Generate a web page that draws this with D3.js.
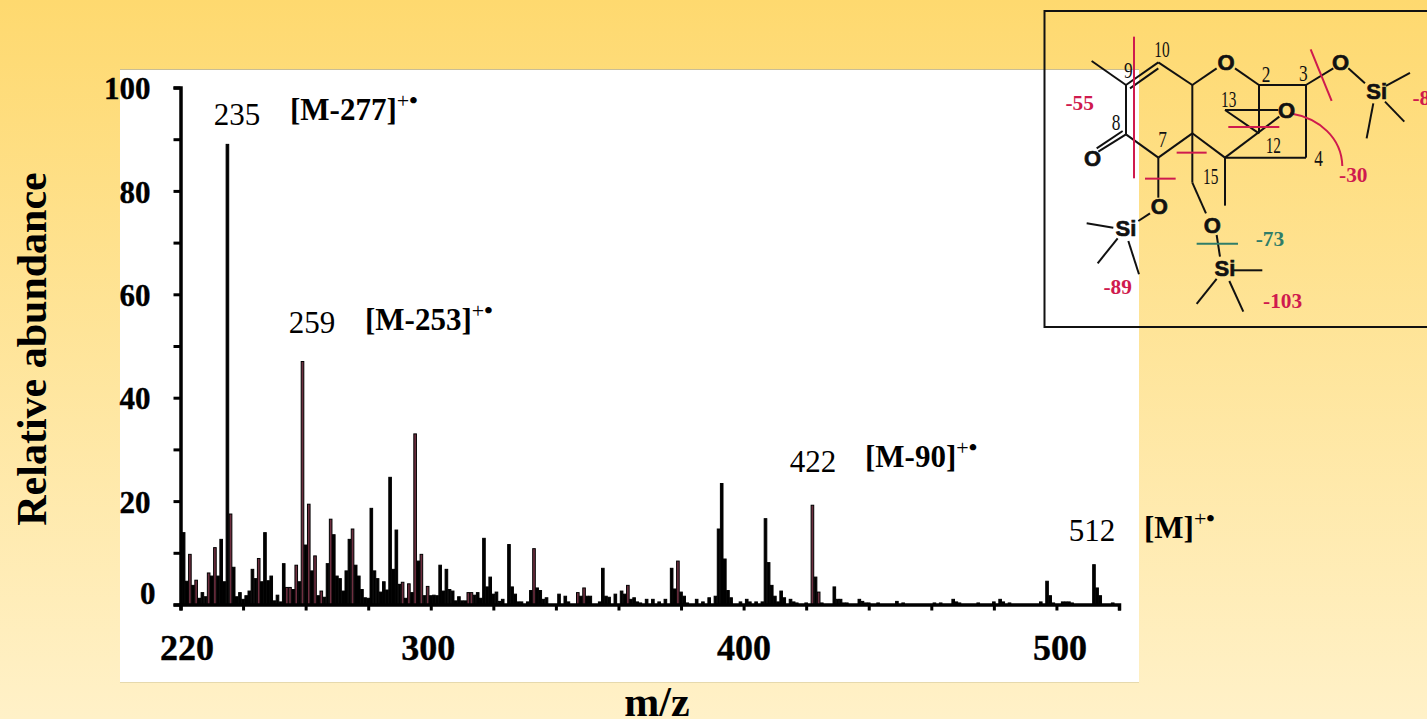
<!DOCTYPE html>
<html>
<head>
<meta charset="utf-8">
<script src="https://d3js.org/d3.v7.min.js"></script>
<style>
html, body { margin: 0; padding: 0; overflow: hidden; }
svg { display: block; }
text { font-family: "Liberation Serif", serif; }
</style>
</head>
<body>
<div id="chart"></div>
<script>
// spectrum
var mz = [221,222,223,224,225,226,227,228,229,230,231,232,233,234,235,236,237,238,239,240,
	241,242,243,244,245,246,247,248,249,250,251,252,253,254,255,256,257,258,259,260,
	261,262,263,264,265,266,267,268,269,270,271,272,273,274,275,276,277,278,279,280,
	281,282,283,284,285,286,287,288,289,290,291,292,293,294,295,296,297,298,299,300,
	301,302,303,304,305,306,307,308,309,310,311,312,313,314,315,316,317,318,319,320,
	321,322,323,325,326,327,328,329,331,332,333,334,335,336,337,341,343,344,347,348,
	349,350,351,354,355,356,357,359,361,362,363,364,365,366,367,369,371,373,375,377,
	378,379,380,381,382,385,387,389,391,392,393,394,395,396,399,401,402,404,406,407,
	408,409,410,411,412,413,415,416,417,420,422,423,424,425,429,430,431,432,433,437,
	438,439,440,443,449,451,461,463,467,468,469,475,480,482,483,485,495,497,498,499,
	502,503,504,505,512,513,514,518];
var abundance = [13.9,4.5,9.7,3.7,4.7,1.2,2.3,1.5,6.1,5.5,11,5.5,12.6,4.4,89,17.5,7.2,1.5,2.3,1,
	1.7,2.6,6.8,5,8.9,4.4,13.9,4.6,5.5,0.7,1.8,0.5,7.9,3.3,3.3,2.9,7.6,4.4,47,11.5,
	19.4,6.5,9.4,1.7,2.6,1.4,7.9,16.5,13.5,5.5,5,2.6,6.5,12.6,14.6,7.6,5.5,2.9,1.3,1.2,
	18.6,6.5,5,2.4,4.4,2.8,24.6,6.8,14.4,3.9,4.3,1.2,4,2.3,33,8.4,9.7,1.7,3.5,1.7,
	1.8,1.7,7.6,2.6,6.8,2.9,2.6,0.7,1.5,0.7,0.7,2.3,2.3,1.8,2.3,1.2,12.8,3.4,5.3,2,
	2.4,0.6,1,11.6,3.4,2,0.5,0.5,0.5,2.7,10.8,3.2,2.7,1,1.3,2,1.6,0.5,2.3,1.6,
	3.2,1.6,1.6,0.5,7,1.6,1.4,2,2.6,2,3.7,1,1.3,0.5,0.3,1,1,0.5,1,7,
	3,8.4,2.4,1.6,0.3,1,0.5,1.3,1.6,14.6,23.4,8.8,2.7,1.3,0.5,1,0.5,0.5,0.5,16.6,
	8.1,3.7,1.6,0.5,2.6,1.3,1,0.5,0.3,0.3,19.2,5.3,2.4,0.3,3.4,1,1,0.3,0.3,1,
	0.6,0.3,0.3,0.3,0.6,0.3,0.3,0.3,1,0.5,0.3,0.3,0.5,1,0.5,0.3,0.5,4.5,1.7,0.3,
	0.5,0.5,0.5,0.3,7.7,3.2,1.7,0.3];
// peaks printed with a maroon core
var maroonPeaks = [223,225,229,231,236,245,254,255,257,259,261,263,265,268,275,291,293,295,297,299,
	312,313,333,347,349,363,379,422,424];

var yTicks = d3.range(0, 101, 10);
var yLabelled = [0, 20, 40, 60, 80, 100];
var xTicks = d3.range(220, 521, 20);
var xLabelled = [220, 300, 400, 500];

// peak annotations: m/z, ion name
var peakNames = [235, 259, 422, 512];
var ionNames = ["[M-277]", "[M-253]", "[M-90]", "[M]"];

var width = 1427, height = 719;

var svg = d3.select("#chart").append("svg")
	.attr("width", width)
	.attr("height", height);

// slide background
var grad = svg.append("defs").append("linearGradient")
	.attr("id", "bg")
	.attr("x1", 0).attr("y1", 0).attr("x2", 0).attr("y2", 1);
grad.append("stop").attr("offset", "0%").attr("stop-color", "#fed96f");
grad.append("stop").attr("offset", "100%").attr("stop-color", "#fff1c8");

svg.append("rect")
	.attr("width", width)
	.attr("height", height)
	.attr("fill", "url(#bg)");

svg.append("rect")
	.attr("x", 120)
	.attr("y", 69)
	.attr("width", 1019)
	.attr("height", 614)
	.attr("fill", "#fff");

// thin edges above and below the white panel
svg.append("line")
	.attr("x1", 120).attr("x2", 1139).attr("y1", 69.5).attr("y2", 69.5)
	.attr("stroke", "#c8bd96");
svg.append("line")
	.attr("x1", 120).attr("x2", 1139).attr("y1", 682.5).attr("y2", 682.5)
	.attr("stroke", "#e6d9ad");

var x = d3.scaleLinear().domain([220, 520]).range([180.5, 1119]);
var y = d3.scaleLinear().domain([0, 100]).range([604.5, 87.5]);

// bars
svg.append("g").selectAll("rect")
	.data(mz)
	.join("rect")
		.attr("x", function(d) { return x(d) - 1.3; })
		.attr("y", function(d, i) { return y(abundance[i]); })
		.attr("width", 2.6)
		.attr("height", function(d, i) { return y(0) - y(abundance[i]); })
		.attr("fill", function(d) { return maroonPeaks.indexOf(d) >= 0 ? "#6e2f40" : "#000"; })
		.attr("stroke", "#000")
		.attr("stroke-width", 1);

// axes
var yAxis = svg.append("g")
	.attr("transform", "translate(" + x(220) + ",0)")
	.call(d3.axisLeft(y)
		.tickValues(yTicks)
		.tickSize(7)
		.tickPadding(23)
		.tickFormat(function(d) { return yLabelled.indexOf(d) >= 0 ? d : ""; }));

var xAxis = svg.append("g")
	.attr("transform", "translate(0," + y(0) + ")")
	.call(d3.axisBottom(x)
		.tickValues(xTicks)
		.tickSize(6)
		.tickPadding(30)
		.tickFormat(function(d) { return xLabelled.indexOf(d) >= 0 ? d : ""; }));

[yAxis, xAxis].forEach(function(a) {
	a.select(".domain").attr("stroke", "#000").attr("stroke-width", 3.5);
	a.selectAll(".tick line").attr("stroke", "#000").attr("stroke-width", 3);
	a.selectAll("text")
		.attr("fill", "#000")
		.attr("stroke", "#000")
		.attr("stroke-width", 0.4)
		.style("font-family", "'Liberation Serif', serif")
		.style("font-weight", "bold");
});
yAxis.selectAll("text").style("font-size", "31px").attr("dy", "0.36em");
yAxis.selectAll(".tick text").filter(function(d) { return d === 0; })
	.attr("x", -25).attr("dy", "-0.02em");
yAxis.selectAll(".tick text").filter(function(d) { return d === 100; }).attr("x", -30);
xAxis.selectAll("text").style("font-size", "36px").attr("dy", "0.55em");
xAxis.selectAll(".tick text").filter(function(d) { return d === 220; }).attr("x", 6);
xAxis.selectAll(".tick text").filter(function(d) { return d === 300; }).attr("x", -3);
xAxis.selectAll(".tick text").filter(function(d) { return d === 500; }).attr("x", 3);

// axis titles
svg.append("text")
	.attr("transform", "translate(46,349) rotate(-90)")
	.attr("text-anchor", "middle")
	.style("font-size", "42px")
	.style("font-weight", "bold")
	.text("Relative abundance");

svg.append("text")
	.attr("x", 657)
	.attr("y", 716)
	.attr("text-anchor", "middle")
	.style("font-size", "42px")
	.style("font-weight", "bold")
	.text("m/z");

// peak labels
var ionX = [290, 365, 865, 1144];
var ionY = [120, 330, 467, 538];
var massX = [237, 312, 813, 1092];
var massY = [125, 333, 472, 541];

peakNames.forEach(function(p, i) {
	svg.append("text")
		.attr("x", massX[i])
		.attr("y", massY[i])
		.attr("text-anchor", "middle")
		.style("font-size", "31px")
		.text(p);

	var t = svg.append("text")
		.attr("x", ionX[i])
		.attr("y", ionY[i])
		.style("font-size", "31px")
		.style("font-weight", "bold");
	t.append("tspan").text(ionNames[i]);
	t.append("tspan")
		.attr("dy", -12)
		.style("font-size", "22px")
		.style("font-weight", "normal")
		.text("+");
	t.append("tspan")
		.style("font-size", "24px")
		.text("\u2022");
});

// structure inset
svg.append("rect")
	.attr("x", 1044.5)
	.attr("y", 11)
	.attr("width", 420)
	.attr("height", 316)
	.attr("fill", "none")
	.attr("stroke", "#111")
	.attr("stroke-width", 2);

var mol = svg.append("g").attr("transform", "translate(1040,5) scale(0.3333)");

var bonds = [
	[155,168,258,240],[258,240,355,172],[270,250,355,190],[355,172,457,240],[457,240,530,190],
	[585,190,657,240],[657,240,798,240],[798,240,798,458],[798,458,555,458],[657,240,657,385],
	[555,458,718,335],[457,385,555,458],[457,240,457,385],[457,385,355,458],[355,458,258,388],
	[258,240,258,388],[258,388,175,440],[248,378,170,430],[355,458,355,578],[330,625,295,648],
	[220,668,140,655],[233,700,173,775],[265,708,297,808],[457,385,457,533],[457,533,498,625],
	[530,690,540,755],[580,796,667,796],[530,822,470,897],[568,828,610,920],[555,458,555,602],
	[555,315,715,315],[555,315,657,385],[798,240,880,190],[925,190,975,235],[1038,243,1110,204],
	[1035,290,1093,350],[1000,295,980,400]
];
var cuts = [
	[282,95,282,520],[812,133,875,288],[565,366,718,366],[410,443,500,443],[315,521,407,521]
];

function drawLines(list, colour, w) {
	mol.append("g").selectAll("line")
		.data(list)
		.join("line")
			.attr("x1", function(d) { return d[0]; })
			.attr("y1", function(d) { return d[1]; })
			.attr("x2", function(d) { return d[2]; })
			.attr("y2", function(d) { return d[3]; })
			.attr("stroke", colour)
			.attr("stroke-width", w);
}
drawLines(bonds, "#111", 6);
drawLines(cuts, "#cf1a4e", 6);
drawLines([[470,716,594,716]], "#2f7d68", 6);

mol.append("path")
	.attr("d", "M750,325 C840,340 905,400 907,483")
	.attr("fill", "none")
	.attr("stroke", "#cf1a4e")
	.attr("stroke-width", 6);

var atoms = [["O",558,195],["O",740,340],["O",158,483],["O",358,628],["O",517,683],["O",902,195],
	["Si",258,693],["Si",555,813],["Si",1010,283]];
mol.append("g").selectAll("text")
	.data(atoms)
	.join("text")
		.attr("x", function(d) { return d[1]; })
		.attr("y", function(d) { return d[2]; })
		.attr("text-anchor", "middle")
		.style("font-family", "'Liberation Sans', sans-serif")
		.style("font-weight", "bold")
		.style("font-size", "66px")
		.attr("fill", "#111")
		.attr("stroke", "#111")
		.attr("stroke-width", 2)
		.text(function(d) { return d[0]; });

var numbers = [["10",366,156],["9",265,220],["2",678,232],["3",790,228],["13",566,306],["8",228,376],
	["7",368,426],["12",700,444],["4",836,482],["15",512,536]];
mol.append("g").selectAll("text")
	.data(numbers)
	.join("text")
		.attr("x", function(d) { return d[1]; })
		.attr("y", function(d) { return d[2]; })
		.attr("text-anchor", "middle")
		.style("font-size", "68px")
		.attr("textLength", function(d) { return d[0].length > 1 ? 46 : 26; })
		.attr("lengthAdjust", "spacingAndGlyphs")
		.attr("fill", "#111")
		.text(function(d) { return d[0]; });

var losses = [["-55",119,315,"#cf1a4e"],["-30",940,530,"#cf1a4e"],["-89",233,866,"#cf1a4e"],
	["-103",728,910,"#cf1a4e"],["-73",690,722,"#2f7d68"],["-89",1160,300,"#cf1a4e"]];
mol.append("g").selectAll("text")
	.data(losses)
	.join("text")
		.attr("x", function(d) { return d[1]; })
		.attr("y", function(d) { return d[2]; })
		.attr("text-anchor", "middle")
		.style("font-size", "64px")
		.style("font-weight", "bold")
		.attr("fill", function(d) { return d[3]; })
		.text(function(d) { return d[0]; });
</script>
</body>
</html>
